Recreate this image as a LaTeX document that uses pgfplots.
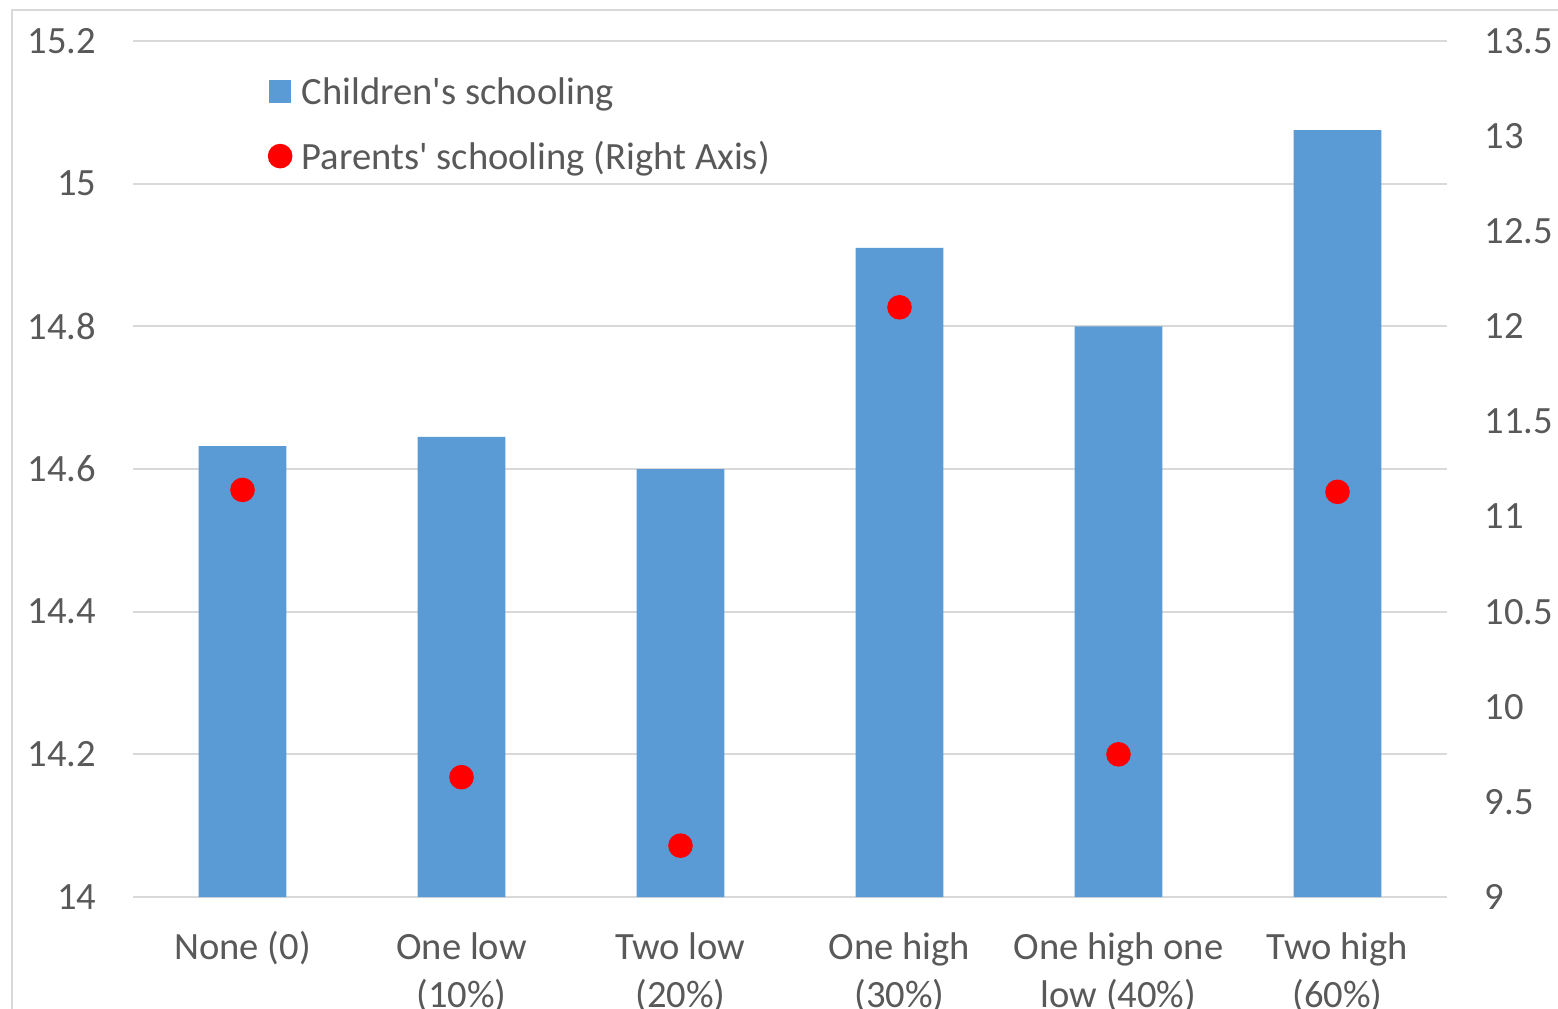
\documentclass[border=0pt]{standalone}
\usepackage{pgfplots}
\usepackage{pgfplotstable}
\pgfplotsset{compat=1.18}
\usepackage{fontspec}
\setmainfont{Carlito}

\definecolor{barblue}{HTML}{5B9BD5}
\definecolor{txtgray}{HTML}{595959}
\definecolor{gridgray}{HTML}{D9D9D9}

% children's schooling (left axis) and parents' schooling (right axis)
\pgfplotstableread{
x child  parent
0 14.632 11.14
1 14.645 9.63
2 14.600 9.27
3 14.910 12.10
4 14.800 9.75
5 15.075 11.13
}\schooling

\newcommand{\lblfont}{\fontsize{9.65}{12}\selectfont}

\pgfplotsset{
  twinaxis/.style={
    at={(33.25pt,27.75pt)}, anchor=south west,
    scale only axis, width=328.5pt, height=214pt,
    xmin=-0.5, xmax=5.5,
    axis line style={draw=none},
    major tick length=0pt,
    tick label style={font=\lblfont, text=txtgray},
    /pgf/number format/assume math mode=true,
  },
}

\begin{document}
\begin{tikzpicture}
% outer chart frame
\draw[gridgray, line width=0.5pt] (2.875pt,-5pt) -- (2.875pt,249.6pt) -- (400pt,249.6pt);

\begin{axis}[twinaxis,
  ymin=14, ymax=15.2,
  ytick={14,14.2,14.4,14.6,14.8,15,15.2},
  ymajorgrids, grid style={gridgray, line width=0.5pt},
  yticklabel style={inner sep=0pt, xshift=-9pt},
  xtick={0,1,2,3,4,5},
  xticklabels={\strut None (0), \strut One low\\(10\%), \strut Two low\\(20\%),
    \strut One high\\(30\%), \strut One high one\\low (40\%), \strut Two high\\(60\%)},
  xticklabel style={align=center, anchor=north, inner sep=0pt, yshift=-7.1pt},
]
\addplot[ybar, bar width=0.4, bar shift=0pt, fill=barblue, draw=none]
  table[x=x, y=child] {\schooling};
\end{axis}

\begin{axis}[twinaxis,
  ymin=9, ymax=13.5,
  ytick={9,9.5,10,10.5,11,11.5,12,12.5,13,13.5},
  yticklabel pos=right,
  yticklabel style={inner sep=0pt, xshift=9.25pt},
  xtick=\empty,
  clip=false,
  legend style={at={(0.1020,0.9550)}, anchor=north west, draw=none, fill=none,
    inner sep=0pt, row sep=7.8pt, font=\lblfont, text=txtgray,
    nodes={inner sep=0pt, text height=6pt, text depth=2pt},
    /tikz/every odd column/.style={column sep=2.3pt}},
  legend cell align=left,
]
\addlegendimage{legend image code/.code={\fill[barblue] (0pt,-1.375pt) rectangle (5.25pt,3.875pt);}}
\addlegendentry{Children\textquotesingle s schooling}
\addplot[only marks, mark=*, mark size=2.875pt, draw=red, fill=red,
  legend image code/.code={\fill[red] (2.625pt,1.25pt) circle (2.875pt);}]
  table[x=x, y=parent] {\schooling};
\addlegendentry{Parents\textquotesingle\ schooling (Right Axis)}
\end{axis}

\pgfresetboundingbox
\path[use as bounding box] (0pt,0pt) rectangle (389.5pt,252pt);
\end{tikzpicture}
\end{document}
